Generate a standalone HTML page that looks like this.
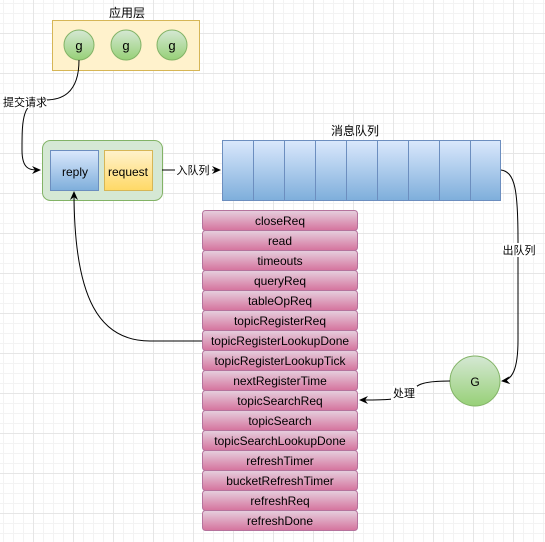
<!DOCTYPE html>
<html><head><meta charset="utf-8"><style>
body{margin:0;width:545px;height:542px;overflow:hidden;background:#fff;
background-image:linear-gradient(#e6e6e6 1px,transparent 1px),linear-gradient(90deg,#e6e6e6 1px,transparent 1px),linear-gradient(#f3f3f3 1px,transparent 1px),linear-gradient(90deg,#f3f3f3 1px,transparent 1px);
background-size:40px 40px,40px 40px,10px 10px,10px 10px;background-position:-7px -7px;font-family:"Liberation Sans","Noto Sans CJK SC",sans-serif;}
</style></head><body>
<svg width="545" height="542" xmlns="http://www.w3.org/2000/svg" style="position:absolute;left:0;top:0" font-family="Liberation Sans, Noto Sans CJK SC, sans-serif">
<defs>
<linearGradient id="gb" x1="0" y1="0" x2="0" y2="1"><stop offset="0" stop-color="#dae8fc"/><stop offset="1" stop-color="#7eaedb"/></linearGradient>
<linearGradient id="gy" x1="0" y1="0" x2="0" y2="1"><stop offset="0" stop-color="#fff2cc"/><stop offset="1" stop-color="#ffd966"/></linearGradient>
<linearGradient id="gg" x1="0" y1="0" x2="0" y2="1"><stop offset="0" stop-color="#d5e8d4"/><stop offset="1" stop-color="#97d077"/></linearGradient>
<linearGradient id="gp" x1="0" y1="0" x2="0" y2="1"><stop offset="0" stop-color="#e6d0de"/><stop offset="1" stop-color="#d5739d"/></linearGradient>
<marker id="ar" markerWidth="10" markerHeight="10" refX="8" refY="5" orient="auto" markerUnits="userSpaceOnUse"><path d="M0,1 L9,5 L0,9 L3,5z" fill="#000"/></marker>
</defs>
<text x="127" y="17" font-size="12" text-anchor="middle">应用层</text>
<rect x="52.5" y="20.5" width="147" height="50" fill="#fff2cc" stroke="#d6b656"/>
<g stroke="#82b366" fill="url(#gg)"><circle cx="79" cy="45" r="15"/><circle cx="126" cy="45" r="15"/><circle cx="172" cy="45" r="15"/></g>
<g font-size="13" text-anchor="middle"><text x="79" y="50">g</text><text x="126" y="50">g</text><text x="172" y="50">g</text></g>
<rect x="42.5" y="140.5" width="120" height="60" rx="8" fill="#d5e8d4" stroke="#82b366"/>
<rect x="50.5" y="150.5" width="48" height="40" fill="url(#gb)" stroke="#6c8ebf"/>
<rect x="104.5" y="150.5" width="48" height="40" fill="url(#gy)" stroke="#d6b656"/>
<text x="75" y="176" font-size="12" text-anchor="middle">reply</text>
<text x="128" y="176" font-size="12" text-anchor="middle">request</text>
<text x="355" y="135" font-size="12" text-anchor="middle">消息队列</text>
<g fill="url(#gb)" stroke="#6c8ebf">
<rect x="222.5" y="140.5" width="31" height="60"/><rect x="253.5" y="140.5" width="31" height="60"/><rect x="284.5" y="140.5" width="31" height="60"/><rect x="315.5" y="140.5" width="31" height="60"/><rect x="346.5" y="140.5" width="31" height="60"/><rect x="377.5" y="140.5" width="31" height="60"/><rect x="408.5" y="140.5" width="31" height="60"/><rect x="439.5" y="140.5" width="31" height="60"/><rect x="470.5" y="140.5" width="30" height="60"/></g>
<g fill="url(#gp)" stroke="#b5739d">
<rect x="202.5" y="210.5" width="155" height="20" rx="3"/><rect x="202.5" y="230.5" width="155" height="20" rx="3"/><rect x="202.5" y="250.5" width="155" height="20" rx="3"/><rect x="202.5" y="270.5" width="155" height="20" rx="3"/><rect x="202.5" y="290.5" width="155" height="20" rx="3"/><rect x="202.5" y="310.5" width="155" height="20" rx="3"/><rect x="202.5" y="330.5" width="155" height="20" rx="3"/><rect x="202.5" y="350.5" width="155" height="20" rx="3"/><rect x="202.5" y="370.5" width="155" height="20" rx="3"/><rect x="202.5" y="390.5" width="155" height="20" rx="3"/><rect x="202.5" y="410.5" width="155" height="20" rx="3"/><rect x="202.5" y="430.5" width="155" height="20" rx="3"/><rect x="202.5" y="450.5" width="155" height="20" rx="3"/><rect x="202.5" y="470.5" width="155" height="20" rx="3"/><rect x="202.5" y="490.5" width="155" height="20" rx="3"/><rect x="202.5" y="510.5" width="155" height="20" rx="3"/></g>
<g font-size="12" text-anchor="middle">
<text x="280" y="225">closeReq</text><text x="280" y="245">read</text><text x="280" y="265">timeouts</text><text x="280" y="285">queryReq</text><text x="280" y="305">tableOpReq</text><text x="280" y="325">topicRegisterReq</text><text x="280" y="345">topicRegisterLookupDone</text><text x="280" y="365">topicRegisterLookupTick</text><text x="280" y="385">nextRegisterTime</text><text x="280" y="405">topicSearchReq</text><text x="280" y="425">topicSearch</text><text x="280" y="445">topicSearchLookupDone</text><text x="280" y="465">refreshTimer</text><text x="280" y="485">bucketRefreshTimer</text><text x="280" y="505">refreshReq</text><text x="280" y="525">refreshDone</text></g>
<circle cx="475" cy="381" r="25" fill="url(#gg)" stroke="#82b366"/>
<text x="475" y="386" font-size="12" text-anchor="middle">G</text>
<g fill="none" stroke="#000" stroke-width="1">
<path d="M79,60 C79,95 60,100 45,100 C22,100 22,120 22,150 C22,170 30,170 40,170" marker-end="url(#ar)"/>
<path d="M162,170 L175,170 M212,170 L220,170" marker-end="url(#ar)"/>
<path d="M501,170 C515,172 518,190 518,240 L518,340 C518,370 512,380 502,381" marker-end="url(#ar)"/>
<path d="M450,381 C420,381 415,385 410,395 C400,400 380,400 360,400" marker-end="url(#ar)"/>
<path d="M202,341 L150,341 C100,341 74,300 74,192" marker-end="url(#ar)"/>
</g>
<rect x="3" y="94" width="44" height="14" fill="#fff"/>
<text x="25" y="106" font-size="11" text-anchor="middle">提交请求</text>
<text x="193" y="174" font-size="11" text-anchor="middle">入队列</text>
<rect x="502" y="243" width="34" height="14" fill="#fff"/>
<text x="519" y="254" font-size="11" text-anchor="middle">出队列</text>
<rect x="391" y="386" width="26" height="14" fill="#fff"/>
<text x="404" y="397" font-size="11" text-anchor="middle">处理</text>
</svg>
</body></html>
